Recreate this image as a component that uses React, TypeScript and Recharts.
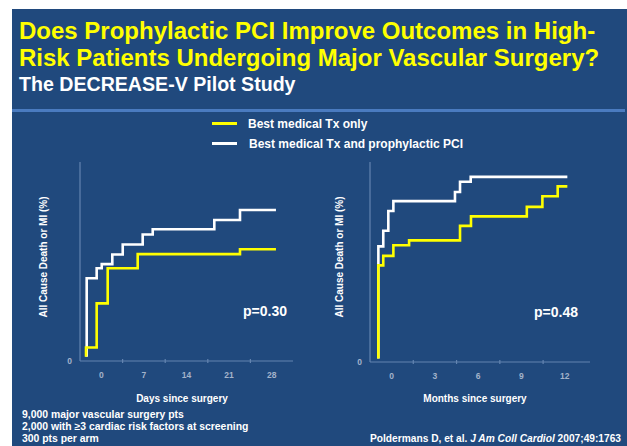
import React from 'react';
import { LineChart, Line, XAxis, YAxis } from 'recharts';

// ---------- data ----------
const dayTicks = [0, 7, 14, 21, 28];
const dayMinorTicks = [3.5, 10.5, 17.5, 24.5];
const monthTicks = [0, 3, 6, 9, 12];
const monthMinorTicks = [1.5, 4.5, 7.5, 10.5];
const yTicks = [0];

// Left panel: days since surgery
const daysPciX = [-2.4, -2.4, -0.76, 0.07, 1.81, 3.52, 6.8, 8.45, 18.57, 22.79, 28.7];
const daysPciY = [1.2, 24.0, 26.9, 28.1, 30.9, 33.8, 36.7, 38.2, 40.9, 43.8, 43.8];
const daysMedX = [-2.51, -2.51, -0.76, 1.05, 5.98, 22.79, 28.7];
const daysMedY = [1.2, 3.9, 16.7, 26.9, 31.0, 32.4, 32.4];

// Right panel: months since surgery
const monthsPciX = [-0.92, -0.92, -0.58, -0.23, 0.12, 4.39, 4.74, 5.48, 12.18];
const monthsPciY = [0.9, 30.4, 34.5, 39.7, 42.3, 44.7, 47.4, 48.7, 48.7];
const monthsMedX = [-0.92, -0.92, -0.58, 0.12, 1.21, 4.74, 5.5, 9.37, 10.45, 11.51, 12.18];
const monthsMedY = [0.9, 25.4, 27.9, 30.7, 32.0, 35.8, 38.3, 40.8, 43.6, 46.2, 46.2];

const zip = (xs: number[], ys: number[]) => xs.map((x, i) => ({ x, y: ys[i] }));

// ---------- styles ----------
const FONT = '"Liberation Sans", Arial, Helvetica, sans-serif';
const BG = '#20497D';
const AXIS = '#6384B0';
const TICK_TEXT = '#A3B3CA';
const YELLOW = '#FFFF00';

function T({ x, y, size, color = '#FFFFFF', bold = true, anchor = 'start', rotate = false, children }: any) {
  const tx = anchor === 'middle' ? '-50%' : '0';
  return (
    <div
      style={{
        position: 'absolute',
        left: x,
        top: y,
        transform: `translate(${tx}, -50%)${rotate ? ' rotate(-90deg)' : ''}`,
        fontFamily: FONT,
        fontSize: size,
        lineHeight: `${size}px`,
        fontWeight: bold ? 'bold' : 'normal',
        color,
        whiteSpace: 'nowrap',
      }}
    >
      {children}
    </div>
  );
}

function makeXTick(major: number[]) {
  return (props: any) => {
    const { x, y, payload } = props;
    const v = payload.value;
    if (major.includes(v)) {
      return (
        <text x={x} y={y + 17} textAnchor="middle" fontSize={8.5} fontWeight="bold" fill={TICK_TEXT} fontFamily={FONT}>
          {v}
        </text>
      );
    }
    return <line x1={x} x2={x} y1={y - 2} y2={y + 2} stroke={AXIS} strokeWidth={1.2} />;
  };
}

const YTick = (props: any) => {
  const { x, y, payload } = props;
  return (
    <text x={x - 8} y={y + 3} textAnchor="end" fontSize={8.5} fontWeight="bold" fill={TICK_TEXT} fontFamily={FONT}>
      {payload.value}
    </text>
  );
};

function Panel({ left, top, width, height, xDomain, yDomain, major, minor, pci, med }: any) {
  const ticks = [...major, ...minor].sort((a: number, b: number) => a - b);
  return (
    <div style={{ position: 'absolute', left, top }}>
      <LineChart width={width} height={height} margin={{ top: 12, right: 5, bottom: 0, left: 50 }}>
        <XAxis
          type="number"
          dataKey="x"
          domain={xDomain}
          allowDataOverflow
          ticks={ticks}
          interval={0}
          tickLine={false}
          tickSize={0}
          tickMargin={0}
          height={30}
          axisLine={{ stroke: AXIS, strokeWidth: 1.2 }}
          tick={makeXTick(major)}
        />
        <YAxis
          type="number"
          dataKey="y"
          domain={yDomain}
          allowDataOverflow
          ticks={yTicks}
          width={30}
          tickLine={false}
          tickSize={0}
          tickMargin={0}
          axisLine={{ stroke: AXIS, strokeWidth: 1.2 }}
          tick={YTick}
        />
        <Line data={pci} dataKey="y" type="stepAfter" stroke="#FFFFFF" strokeWidth={2.6} dot={false} isAnimationActive={false} />
        <Line data={med} dataKey="y" type="stepAfter" stroke={YELLOW} strokeWidth={2.6} dot={false} isAnimationActive={false} />
      </LineChart>
    </div>
  );
}

export default function App() {
  return (
    <div style={{ position: 'absolute', left: 0, top: 0, width: 627, height: 446, background: '#FFFFFF', overflow: 'hidden' }}>
      <div style={{ position: 'absolute', left: 12, top: 9, right: 0, bottom: 0, background: BG }} />
      <div style={{ position: 'absolute', left: 12, top: 109, width: 613, height: 3, background: '#4A7BC0' }} />

      <T x={19} y={31} size={24} color={YELLOW}>Does Prophylactic PCI Improve Outcomes in High-</T>
      <T x={19} y={58} size={24} color={YELLOW}>Risk Patients Undergoing Major Vascular Surgery?</T>
      <T x={19} y={85} size={19.6}>The DECREASE-V Pilot Study</T>

      {/* legend */}
      <div style={{ position: 'absolute', left: 212, top: 122, width: 25, height: 3, background: YELLOW }} />
      <T x={248} y={124} size={12}>Best medical Tx only</T>
      <div style={{ position: 'absolute', left: 212, top: 142, width: 25, height: 3, background: '#FFFFFF' }} />
      <T x={249} y={143.5} size={12}>Best medical Tx and prophylactic PCI</T>

      <Panel
        left={0}
        top={150}
        width={298}
        height={241}
        xDomain={[-3.5, 31.5]}
        yDomain={[0, 57.7]}
        major={dayTicks}
        minor={dayMinorTicks}
        pci={zip(daysPciX, daysPciY)}
        med={zip(daysMedX, daysMedY)}
      />
      <Panel
        left={290}
        top={150}
        width={305}
        height={242}
        xDomain={[-1.5, 13.75]}
        yDomain={[0, 52.6]}
        major={monthTicks}
        minor={monthMinorTicks}
        pci={zip(monthsPciX, monthsPciY)}
        med={zip(monthsMedX, monthsMedY)}
      />

      <T x={44} y={257} size={10} anchor="middle" rotate>All Cause Death or MI (%)</T>
      <T x={340} y={257} size={10} anchor="middle" rotate>All Cause Death or MI (%)</T>
      <T x={265} y={311} size={14} anchor="middle">p=0.30</T>
      <T x={556} y={312} size={14} anchor="middle">p=0.48</T>
      <T x={182} y={399} size={10} anchor="middle">Days since surgery</T>
      <T x={475} y={399} size={10} anchor="middle">Months since surgery</T>

      <T x={22} y={415} size={10.4}>9,000 major vascular surgery pts</T>
      <T x={22} y={427} size={10.4}>2,000 with ≥3 cardiac risk factors at screening</T>
      <T x={22} y={439} size={10.4}>300 pts per arm</T>
      <T x={370} y={439} size={10.2}>
        Poldermans D, et al. <i>J Am Coll Cardiol</i> 2007;49:1763
      </T>
    </div>
  );
}
